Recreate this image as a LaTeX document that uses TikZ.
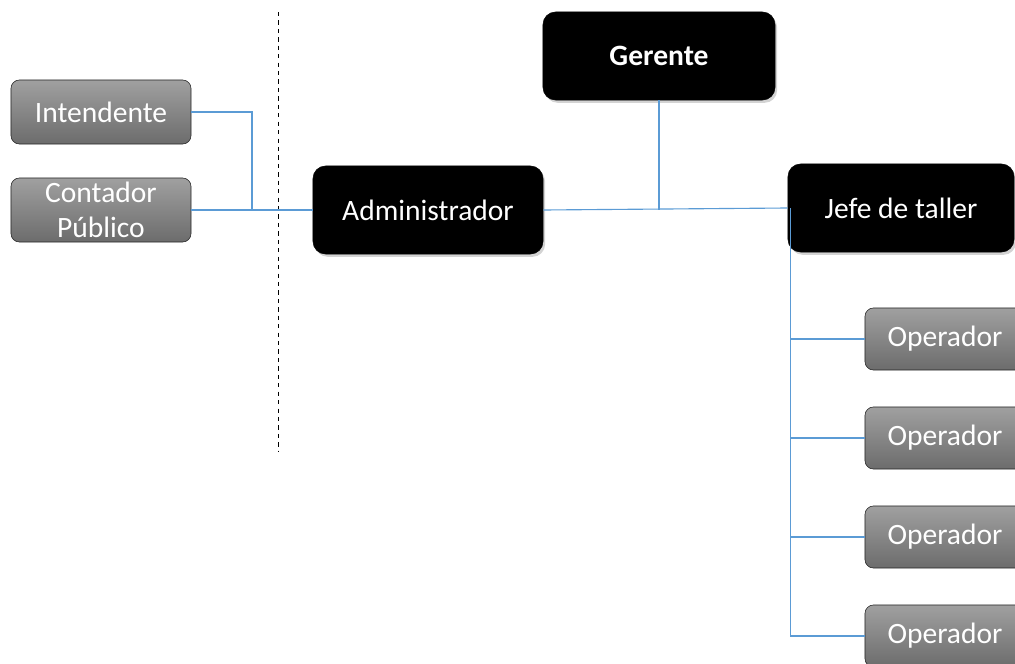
\documentclass[tikz,border=0pt]{standalone}
\usepackage{fontspec}
\setmainfont{Carlito}
\usepackage{tikz}
\usetikzlibrary{shadows, calc}
\definecolor{linkblue}{RGB}{91, 155, 213}
\definecolor{graytop}{RGB}{160, 160, 160}
\definecolor{graybot}{RGB}{108, 108, 108}

\begin{document}
\begin{tikzpicture}[x=0.025cm, y=-0.025cm,
  headbox/.style={draw=black, fill=black, text=white, rounded corners=9pt, align=center,
                  font=\fontsize{21}{25}\selectfont, minimum height=2.2cm,
                  drop shadow={opacity=0.35, shadow xshift=1.5pt, shadow yshift=-2pt}},
  subbox/.style={draw=black!85, top color=graytop, bottom color=graybot, text=white,
                 rounded corners=6pt, align=center, font=\fontsize{21}{25}\selectfont,
                 minimum width=4.5cm, minimum height=1.6cm, inner sep=1pt},
  link/.style={linkblue, line width=0.8pt},
]
\useasboundingbox (0,0) rectangle (1015,664);

% Dashed divider
\coordinate (divtop) at (278,12);
\coordinate (divbot) at (278,452);
\draw[dashed, line width=0.7pt] (divtop) -- (divbot);

% Main boxes
\node[headbox, minimum width=5.8cm, font=\fontsize{21}{25}\selectfont\bfseries]
     (ger) at (659,56) {Gerente};
\node[headbox, minimum width=5.75cm] (adm) at (428,210) {Administrador};
\node[headbox, minimum width=5.65cm] (jef) at (901,208) {Jefe de taller};

% Staff boxes
\node[subbox] (int) at (101,112) {Intendente};
\node[subbox] (con) at (101,210) {Contador\\Público};

% Operators
\foreach \i/\y in {1/339, 2/438, 3/537, 4/636}
  \node[subbox, minimum width=4cm, minimum height=1.55cm] (op\i) at (945,\y) {Operador};

% Connectors
\coordinate (jn) at (252,210);
\draw[link] (int.east) -| (jn);
\draw[link] (con.east) -- (adm.west);
\draw[link] (adm.east) -- (jef.west);
\draw[link] (ger.south) -- (ger.south |- adm.east);
\foreach \i in {1,...,4}
  \draw[link] ([xshift=2pt]jef.west) |- (op\i.west);
\end{tikzpicture}
\end{document}
